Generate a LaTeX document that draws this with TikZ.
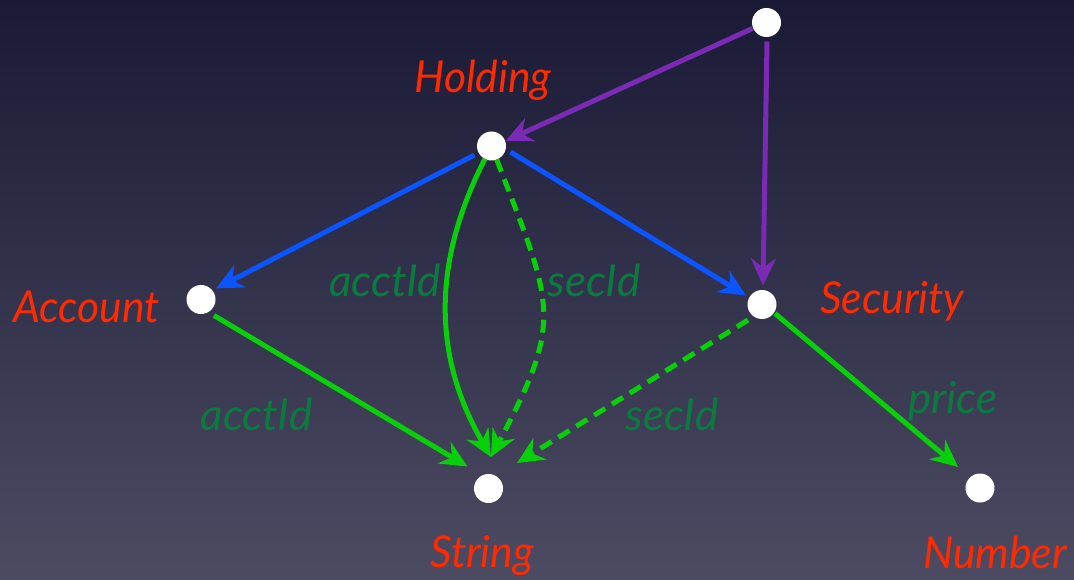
\documentclass[tikz,border=0pt]{standalone}
\usepackage{fontspec}
\setmainfont{Lato}
\usetikzlibrary{arrows.meta,calc}
\definecolor{bgtop}{HTML}{1A1A36}
\definecolor{bgbot}{HTML}{4C4B62}
\definecolor{lblred}{HTML}{FF2A00}
\definecolor{lblgreen}{HTML}{0B7A40}
\definecolor{edgegreen}{HTML}{08D008}
\definecolor{edgeblue}{HTML}{0A55FF}
\definecolor{edgepurple}{HTML}{7B2AB5}
\begin{document}
\begin{tikzpicture}[x=1pt,y=-1pt,
  dot/.style={circle,fill=white,minimum size=29pt,inner sep=0pt,outer sep=0pt},
  nlabel/.style={text=lblred,font=\fontsize{44}{50}\selectfont\itshape,anchor=base,inner sep=0pt,xscale=0.97},
  elabel/.style={text=lblgreen,font=\fontsize{44}{50}\selectfont\itshape,anchor=base,inner sep=0pt},
  conn/.style={line width=5pt,-{Stealth[length=27pt,width=25pt,inset=9pt]}},
  purplearrow/.style={conn,draw=edgepurple,fill=edgepurple},
  bluearrow/.style={conn,draw=edgeblue},
  greenarrow/.style={conn,draw=edgegreen},
  greendash/.style={conn,draw=edgegreen,dash pattern=on 13pt off 8pt}
]
\shade[top color=bgtop,bottom color=bgbot] (0,0) rectangle (1074,580);
\useasboundingbox (0,0) rectangle (1074,580);

% nodes
\node[dot] (T)  at (766.5,22.5) {};
\node[dot] (H)  at (491.5,146) {};
\node[dot] (A)  at (201,299.5) {};
\node[dot] (S)  at (762,304.5) {};
\node[dot] (St) at (488.5,488.5) {};
\node[dot] (N)  at (980,488) {};

% node labels
\node[nlabel] (lH)  at (483,93) {Holding};
\node[nlabel] (lA)  at (86.5,323) {Account};
\node[nlabel] (lS)  at (892,313) {Security};
\node[nlabel] (lSt) at (482,567) {String};
\node[nlabel] (lN)  at (995,568) {Number};

% edge labels
\node[elabel] (e1) at (385,297) {acctId};
\node[elabel] (e2) at (594,297) {secId};
\node[elabel] (e3) at (256.5,430) {acctId};
\node[elabel] (e4) at (672,430) {secId};
\node[elabel] (e5) at (953,413) {price};

% connectors
\draw[purplearrow] ($(T)+(-14,6)$) -- ($(H)+(14,-5)$);
\draw[purplearrow] ($(T)+(0.5,19)$) -- ($(S)+(1,-19)$);
\draw[bluearrow] ($(H)+(-17,9)$) -- ($(A)+(15,-11)$);
\draw[bluearrow] ($(H)+(19,6)$) -- ($(S)+(-16,-9)$);
\draw[greenarrow] ($(A)+(13,16)$) -- ($(St)+(-21,-22)$);
\draw[greenarrow] (H) to[out=-117,in=120] ($(St)+(2.5,-31.5)$);
\draw[greendash] (H) to[out=-69,in=62,looseness=1.35] ($(St)+(2.5,-31.5)$);
\draw[greendash] ($(S)+(-14,15.5)$) -- ($(St)+(28.5,-25.5)$);
\draw[greenarrow] ($(S)+(13,9)$) -- ($(N)+(-22,-21)$);
\end{tikzpicture}
\end{document}
